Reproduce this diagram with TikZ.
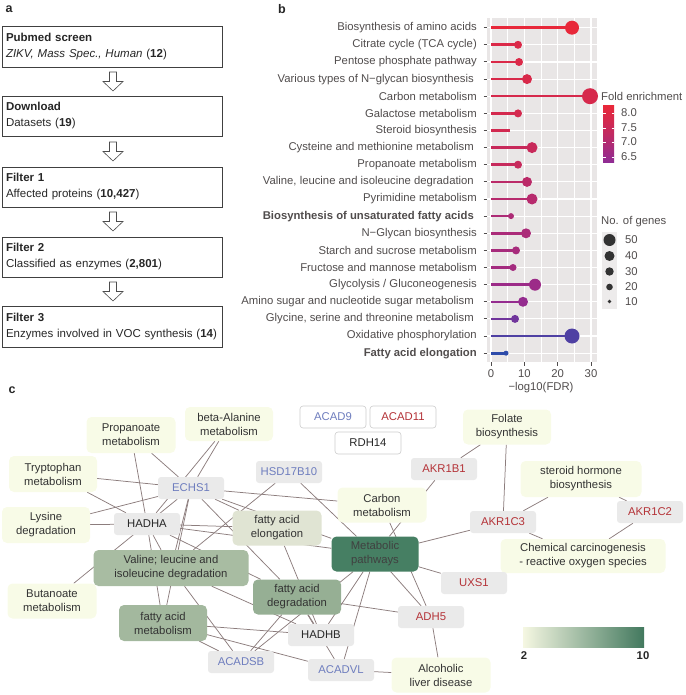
\documentclass[tikz,border=0pt]{standalone}
\usepackage{fontspec}
\setmainfont{Liberation Sans}
\usetikzlibrary{shapes.geometric, arrows, backgrounds}
\definecolor{pathcol}{RGB}{248,251,231}
\definecolor{barlow}{RGB}{245,247,226}
\definecolor{elongcol}{RGB}{224,228,211}
\definecolor{valcol}{RGB}{168,188,162}
\definecolor{degrcol}{RGB}{150,175,148}
\definecolor{famcol}{RGB}{163,184,158}
\definecolor{mpcol}{RGB}{70,127,99}
\definecolor{genecol}{RGB}{234,234,234}
\definecolor{bluetext}{RGB}{110,125,190}
\definecolor{redtext}{RGB}{180,50,55}
\definecolor{edgecol}{RGB}{140,125,125}
\definecolor{labcol}{RGB}{80,76,76}
\definecolor{panelcol}{RGB}{233,230,230}
\definecolor{fcred}{RGB}{232,40,58}
\definecolor{fcpur}{RGB}{142,44,150}
\definecolor{fcblue}{RGB}{45,75,170}
\tikzstyle{panel} = [font=\bfseries\fontsize{12.5}{14}\selectfont, text=black!85, inner sep=0pt]
\tikzstyle{stepbox} = [rectangle, draw=black!75, line width=0.7pt, minimum width=220pt, minimum height=40pt, text width=212pt, inner xsep=4pt, inner ysep=6pt, align=left, text=black!85, font=\fontsize{11.5}{16}\selectfont]
\tikzstyle{hollow} = [draw=black!70, fill=white, line width=0.6pt]
\tikzstyle{rowlab} = [anchor=east, inner sep=0pt, text=labcol]
\tikzstyle{lolli} = [line width=2.6pt]
\tikzstyle{gridline} = [white, line width=1.1pt]
\tikzstyle{legtext} = [anchor=west, inner sep=0pt, text=labcol]
\tikzstyle{pathway} = [rectangle, rounded corners=5pt, fill=pathcol, text=black!80, align=center, minimum height=35pt, inner sep=1pt]
\tikzstyle{gene} = [rectangle, rounded corners=3pt, fill=genecol, text=black!85, minimum width=66pt, minimum height=22pt, inner sep=1pt]
\tikzstyle{bluegene} = [gene, text=bluetext]
\tikzstyle{redgene} = [gene, text=redtext]
\tikzstyle{lone} = [gene, fill=white, draw=black!20, line width=0.6pt]
\tikzstyle{link} = [draw=edgecol, line width=0.75pt]
\tikzstyle{barlab} = [font=\bfseries\fontsize{11.3}{14}\selectfont, text=black!85, inner sep=0pt]
\begin{document}
\begin{tikzpicture}[x=1pt, y=-1pt, font=\fontsize{11.3}{14}\selectfont]
    \useasboundingbox (0,0) rectangle (685,695);
    \node [panel] at (9,9) (la) {a};
    \node [panel] at (282,9) (lb) {b};
    \node [panel] at (12,390) (lc) {c};

    \node [stepbox, minimum height=41pt] at (112,46.5) (box1) {\textbf{Pubmed screen}\\\textit{ZIKV, Mass Spec., Human} (\textbf{12})};
    \node [stepbox] at (112,116) (box2) {\textbf{Download}\\Datasets (\textbf{19})};
    \node [stepbox] at (112,187) (box3) {\textbf{Filter 1}\\Affected proteins (\textbf{10,427})};
    \node [stepbox] at (112,257) (box4) {\textbf{Filter 2}\\Classified as enzymes (\textbf{2,801})};
    \node [stepbox, minimum height=41pt] at (112,326.5) (box5) {\textbf{Filter 3}\\Enzymes involved in VOC synthesis (\textbf{14})};
    \draw [hollow] (109.5,72) -- (116.5,72) -- (116.5,81.5) -- (123,81.5) -- (113,91) -- (103,81.5) -- (109.5,81.5) -- cycle;
    \draw [hollow] (109.5,142) -- (116.5,142) -- (116.5,151.5) -- (123,151.5) -- (113,161) -- (103,151.5) -- (109.5,151.5) -- cycle;
    \draw [hollow] (109.5,212) -- (116.5,212) -- (116.5,221.5) -- (123,221.5) -- (113,231) -- (103,221.5) -- (109.5,221.5) -- cycle;
    \draw [hollow] (109.5,282) -- (116.5,282) -- (116.5,291.5) -- (123,291.5) -- (113,301) -- (103,291.5) -- (109.5,291.5) -- cycle;

    \fill [panelcol] (487,18) rectangle (597,362);
    \foreach \x in {491,524.3,557.7,591} {
        \draw [gridline] (\x,18) -- (\x,362);
        \draw [labcol, line width=1pt] (\x,362) -- (\x,365.5);
    }
    \foreach \x in {507.7,541,574.3}
        \draw [white, line width=0.6pt] (\x,18) -- (\x,362);
    \foreach \y in {27.7,44.8,62.0,79.1,96.2,113.4,130.5,147.6,164.7,181.9,199.0,216.1,233.3,250.4,267.5,284.7,301.8,318.9,336.0,353.2} {
        \draw [gridline] (487,\y) -- (597,\y);
        \draw [labcol, line width=1pt] (483.5,\y) -- (487,\y);
    }
    \node [rowlab] at (477,27.7) (r0) {Biosynthesis of amino acids};
    \node [rowlab] at (477,44.8) (r1) {Citrate cycle (TCA cycle)};
    \node [rowlab] at (477,62.0) (r2) {Pentose phosphate pathway};
    \node [rowlab] at (474,79.1) (r3) {Various types of N−glycan biosynthesis};
    \node [rowlab] at (477,96.2) (r4) {Carbon metabolism};
    \node [rowlab] at (477,113.4) (r5) {Galactose metabolism};
    \node [rowlab] at (477,130.5) (r6) {Steroid biosynthesis};
    \node [rowlab] at (474,147.6) (r7) {Cysteine and methionine metabolism};
    \node [rowlab] at (477,164.7) (r8) {Propanoate metabolism};
    \node [rowlab] at (474,181.9) (r9) {Valine, leucine and isoleucine degradation};
    \node [rowlab] at (477,199.0) (r10) {Pyrimidine metabolism};
    \node [rowlab] at (474,216.1) (r11) {\textbf{Biosynthesis of unsaturated fatty acids}};
    \node [rowlab] at (477,233.3) (r12) {N−Glycan biosynthesis};
    \node [rowlab] at (477,250.4) (r13) {Starch and sucrose metabolism};
    \node [rowlab] at (477,267.5) (r14) {Fructose and mannose metabolism};
    \node [rowlab] at (477,284.7) (r15) {Glycolysis / Gluconeogenesis};
    \node [rowlab] at (474,301.8) (r16) {Amino sugar and nucleotide sugar metabolism};
    \node [rowlab] at (474,318.9) (r17) {Glycine, serine and threonine metabolism};
    \node [rowlab] at (477,336.0) (r18) {Oxidative phosphorylation};
    \node [rowlab] at (477,353.2) (r19) {\textbf{Fatty acid elongation}};
    \draw [lolli, fcred] (491,27.7) -- (572,27.7); \fill [fcred] (572,27.7) circle (7pt);
    \draw [lolli, fcred!85!fcpur] (491,44.8) -- (518,44.8); \fill [fcred!85!fcpur] (518,44.8) circle (4pt);
    \draw [lolli, fcred!85!fcpur] (491,62.0) -- (519,62.0); \fill [fcred!85!fcpur] (519,62.0) circle (4pt);
    \draw [lolli, fcred!82!fcpur] (491,79.1) -- (527,79.1); \fill [fcred!82!fcpur] (527,79.1) circle (5pt);
    \draw [lolli, fcred!80!fcpur] (491,96.2) -- (590,96.2); \fill [fcred!80!fcpur] (590,96.2) circle (8pt);
    \draw [lolli, fcred!78!fcpur] (491,113.4) -- (518,113.4); \fill [fcred!78!fcpur] (518,113.4) circle (4pt);
    \draw [lolli, fcred!76!fcpur] (491,130.5) -- (510,130.5);
    \draw [lolli, fcred!65!fcpur] (491,147.6) -- (532,147.6); \fill [fcred!65!fcpur] (532,147.6) circle (5.5pt);
    \draw [lolli, fcred!63!fcpur] (491,164.7) -- (518,164.7); \fill [fcred!63!fcpur] (518,164.7) circle (4pt);
    \draw [lolli, fcred!50!fcpur] (491,181.9) -- (527,181.9); \fill [fcred!50!fcpur] (527,181.9) circle (5pt);
    \draw [lolli, fcred!45!fcpur] (491,199.0) -- (532,199.0); \fill [fcred!45!fcpur] (532,199.0) circle (5.5pt);
    \draw [lolli, fcred!35!fcpur] (491,216.1) -- (511,216.1); \fill [fcred!35!fcpur] (511,216.1) circle (3pt);
    \draw [lolli, fcred!32!fcpur] (491,233.3) -- (526,233.3); \fill [fcred!32!fcpur] (526,233.3) circle (5pt);
    \draw [lolli, fcred!28!fcpur] (491,250.4) -- (516,250.4); \fill [fcred!28!fcpur] (516,250.4) circle (4pt);
    \draw [lolli, fcred!25!fcpur] (491,267.5) -- (513,267.5); \fill [fcred!25!fcpur] (513,267.5) circle (3.5pt);
    \draw [lolli, fcred!15!fcpur] (491,284.7) -- (535,284.7); \fill [fcred!15!fcpur] (535,284.7) circle (6pt);
    \draw [lolli, fcred!8!fcpur] (491,301.8) -- (523,301.8); \fill [fcred!8!fcpur] (523,301.8) circle (5pt);
    \draw [lolli, fcpur!70!fcblue] (491,318.9) -- (515,318.9); \fill [fcpur!70!fcblue] (515,318.9) circle (4pt);
    \draw [lolli, fcpur!35!fcblue] (491,336.0) -- (572,336.0); \fill [fcpur!35!fcblue] (572,336.0) circle (7.5pt);
    \draw [lolli, fcblue] (491,353.2) -- (506,353.2); \fill [fcblue] (506,353.2) circle (2.5pt);
    \node [text=labcol] at (491,374) (t0) {0};
    \node [text=labcol] at (524.3,374) (t10) {10};
    \node [text=labcol] at (557.7,374) (t20) {20};
    \node [text=labcol] at (591,374) (t30) {30};
    \node [text=labcol] at (541,388) (xlab) {−log10(FDR)};

    \node [legtext] at (601,96) (fold) {Fold enrichment};
    \shade [top color=fcred, bottom color=fcpur, middle color=fcred!55!fcpur] (603,106) rectangle (614,163);
    \draw [white, line width=0.6pt] (603,113) -- (605.5,113) (611.5,113) -- (614,113) (603,128) -- (605.5,128) (611.5,128) -- (614,128) (603,142) -- (605.5,142) (611.5,142) -- (614,142) (603,157) -- (605.5,157) (611.5,157) -- (614,157);
    \node [legtext] at (621,113) (f80) {8.0};
    \node [legtext] at (621,128) (f75) {7.5};
    \node [legtext] at (621,142) (f70) {7.0};
    \node [legtext] at (621,157) (f65) {6.5};
    \node [legtext] at (601,222) (genes) {No. of genes};
    \fill [panelcol!80!white] (602,232) rectangle (617,309);
    \fill [black!80] (609.5,240) circle (6pt);
    \fill [black!80] (609.5,256) circle (5pt);
    \fill [black!80] (609.5,271.5) circle (4.2pt);
    \fill [black!80] (609.5,287) circle (3.3pt);
    \fill [black!80] (609.5,301.5) circle (1.8pt);
    \node [legtext] at (625,240) (g50) {50};
    \node [legtext] at (625,256) (g40) {40};
    \node [legtext] at (625,271.5) (g30) {30};
    \node [legtext] at (625,287) (g20) {20};
    \node [legtext] at (625,301.5) (g10) {10};

    \node [pathway, minimum width=89pt, minimum height=36pt] at (131,435) (prop) {Propanoate\\metabolism};
    \node [pathway, minimum width=88pt, minimum height=34pt] at (229,424) (bala) {beta-Alanine\\metabolism};
    \node [pathway, minimum width=88pt, minimum height=36pt] at (53,474) (tryp) {Tryptophan\\metabolism};
    \node [pathway, minimum width=88pt, minimum height=36pt] at (46,525) (lys) {Lysine\\degradation};
    \node [pathway, minimum width=89pt] at (52,601) (but) {Butanoate\\metabolism};
    \node [pathway, minimum width=89pt] at (382,505) (carbon) {Carbon\\metabolism};
    \node [pathway, minimum width=88pt] at (507,427) (folate) {Folate\\biosynthesis};
    \node [pathway, minimum width=121pt, minimum height=36pt] at (581,479) (steroid) {steroid hormone\\biosynthesis};
    \node [pathway, minimum width=165pt, minimum height=34pt] at (583,556) (chem) {Chemical carcinogenesis\\- reactive oxygen species};
    \node [pathway, minimum width=99pt] at (441,675) (alc) {Alcoholic\\liver disease};
    \node [pathway, fill=elongcol, minimum width=89pt] at (277,528) (elong) {fatty acid\\elongation};
    \node [pathway, fill=valcol, minimum width=155pt, minimum height=36pt] at (171,568) (valine) {Valine; leucine and\\isoleucine degradation};
    \node [pathway, fill=degrcol, minimum width=88pt] at (297,597) (degr) {fatty acid\\degradation};
    \node [pathway, fill=famcol, minimum width=88pt, minimum height=36pt] at (163,623) (fam) {fatty acid\\metabolism};
    \node [pathway, fill=mpcol, text=black!75, minimum width=87pt] at (375,554) (mp) {Metabolic\\pathways};
    \node [bluegene] at (191,488) (echs1) {ECHS1};
    \node [bluegene] at (289,472) (hsd) {HSD17B10};
    \node [gene] at (147,524) (hadha) {HADHA};
    \node [gene] at (321,635) (hadhb) {HADHB};
    \node [bluegene] at (241,662) (acadsb) {ACADSB};
    \node [bluegene] at (341,670) (acadvl) {ACADVL};
    \node [redgene] at (444,469) (akr1b1) {AKR1B1};
    \node [redgene] at (503,522) (akr1c3) {AKR1C3};
    \node [redgene] at (650,512) (akr1c2) {AKR1C2};
    \node [redgene] at (474,583) (uxs1) {UXS1};
    \node [redgene] at (431,617) (adh5) {ADH5};
    \node [lone, text=bluetext] at (333,417) (acad9) {ACAD9};
    \node [lone, text=redtext] at (403,417) (acad11) {ACAD11};
    \node [lone] at (368,443) (rdh14) {RDH14};
    \begin{scope}[on background layer]
    \draw [link] (echs1) -- (prop);
    \draw [link] (echs1) -- (bala);
    \draw [link] (echs1) -- (tryp);
    \draw [link] (echs1) -- (lys);
    \draw [link] (echs1) -- (but);
    \draw [link] (echs1) -- (carbon);
    \draw [link] (echs1) -- (elong);
    \draw [link] (echs1) -- (valine);
    \draw [link] (echs1) -- (degr);
    \draw [link] (echs1) -- (fam);
    \draw [link] (echs1) -- (mp);
    \draw [link] (hadha) -- (prop);
    \draw [link] (hadha) -- (bala);
    \draw [link] (hadha) -- (tryp);
    \draw [link] (hadha) -- (lys);
    \draw [link] (hadha) -- (elong);
    \draw [link] (hadha) -- (valine);
    \draw [link] (hadha) -- (degr);
    \draw [link] (hadha) -- (fam);
    \draw [link] (hadha) -- (mp);
    \draw [link] (hadhb) -- (elong);
    \draw [link] (hadhb) -- (valine);
    \draw [link] (hadhb) -- (degr);
    \draw [link] (hadhb) -- (fam);
    \draw [link] (hadhb) -- (mp);
    \draw [link] (hsd) -- (valine);
    \draw [link] (hsd) -- (mp);
    \draw [link] (acadsb) -- (valine);
    \draw [link] (acadsb) -- (degr);
    \draw [link] (acadsb) -- (fam);
    \draw [link] (acadsb) -- (mp);
    \draw [link] (acadvl) -- (degr);
    \draw [link] (acadvl) -- (fam);
    \draw [link] (acadvl) -- (mp);
    \draw [link] (acadvl) -- (alc);
    \draw [link] (akr1b1) -- (folate);
    \draw [link] (akr1b1) -- (mp);
    \draw [link] (akr1c3) -- (folate);
    \draw [link] (akr1c3) -- (steroid);
    \draw [link] (akr1c3) -- (chem);
    \draw [link] (akr1c3) -- (mp);
    \draw [link] (akr1c2) -- (steroid);
    \draw [link] (akr1c2) -- (chem);
    \draw [link] (uxs1) -- (mp);
    \draw [link] (adh5) -- (carbon);
    \draw [link] (adh5) -- (mp);
    \draw [link] (adh5) -- (degr);
    \draw [link] (adh5) -- (alc);
    \end{scope}
    \shade [left color=barlow, right color=mpcol!95!black] (523,627) rectangle (644,647);
    \node [barlab] at (524,656) (lo) {2};
    \node [barlab] at (643,656) (hi) {10};
\end{tikzpicture}
\end{document}
